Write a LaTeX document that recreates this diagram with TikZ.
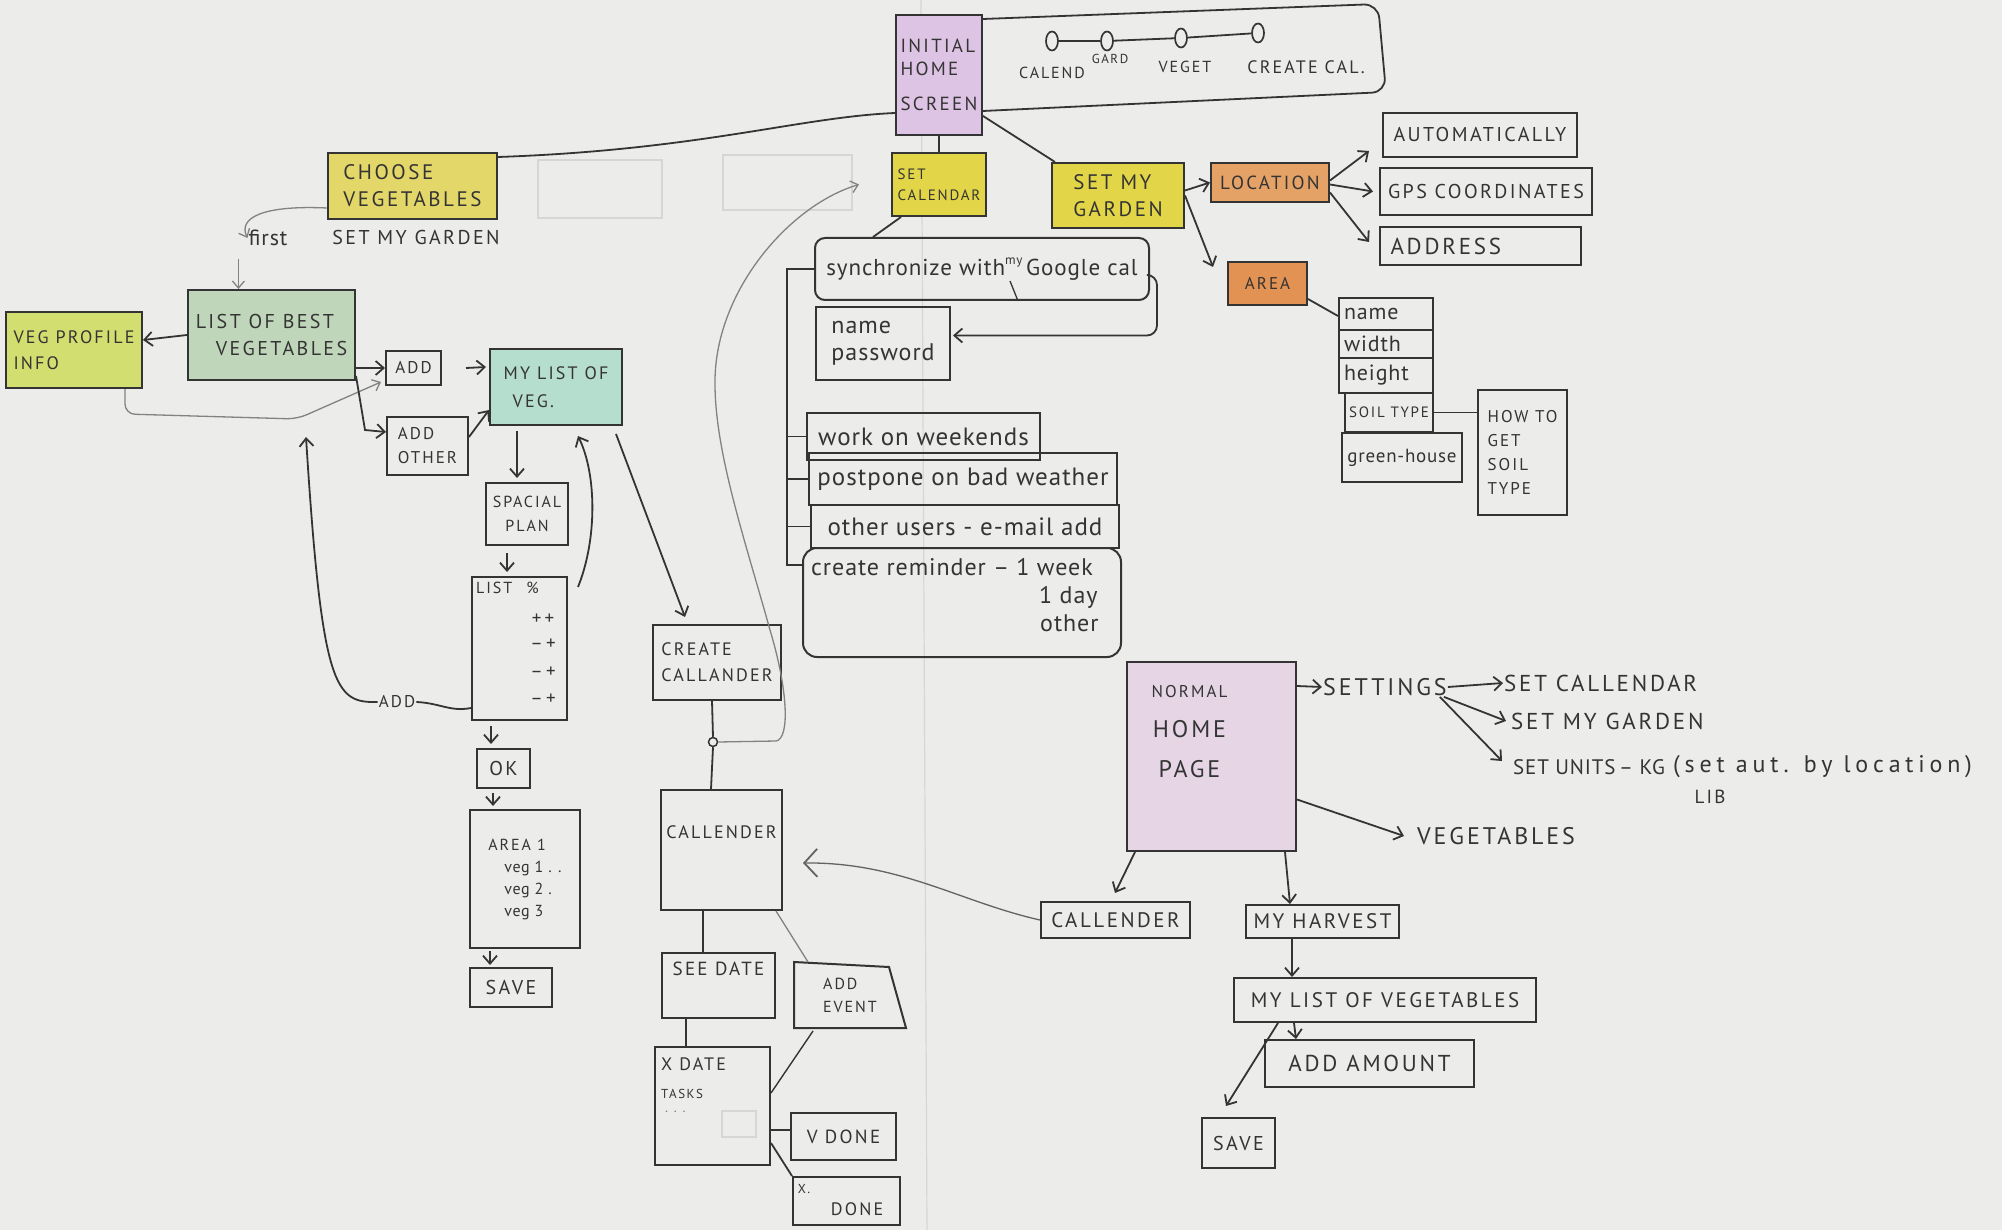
\documentclass[tikz,border=0pt]{standalone}
\usepackage{fontspec}
\setmainfont{PT Sans}[LetterSpace=4]
\newfontfamily\hw{PT Sans}[LetterSpace=12]
\newfontfamily\vw{PT Sans}[LetterSpace=20]
\usetikzlibrary{arrows.meta,shapes.geometric}
\definecolor{ink}{RGB}{52,52,52}
\definecolor{pencil}{RGB}{130,130,130}
\definecolor{faint}{RGB}{214,214,214}
\definecolor{paper}{RGB}{236,236,235}
\definecolor{purA}{RGB}{222,196,228}
\definecolor{purB}{RGB}{229,213,229}
\definecolor{yelA}{RGB}{228,215,105}
\definecolor{yelB}{RGB}{226,214,72}
\definecolor{orA}{RGB}{228,162,102}
\definecolor{orB}{RGB}{226,146,82}
\definecolor{grA}{RGB}{192,214,186}
\definecolor{limeA}{RGB}{210,222,112}
\definecolor{tealA}{RGB}{182,222,206}
\newcommand\fsz[2]{\fontsize{#1}{#2}\selectfont}
\newcommand\hbx[7][]{\node[box,#1,minimum width={(#5)-(#3)},minimum height={(#6)-(#4)}] (#2) at ({((#3)+(#5))/2},{((#4)+(#6))/2}) {#7};}
\tikzset{
 box/.style={draw=ink,line width=2pt,inner sep=1pt,align=center,text=ink,font=\hw\fsz{20}{25}},
 lbl/.style={text=ink,inner sep=1pt,font=\hw\fsz{20}{25}},
 con/.style={draw=ink,line width=1.8pt},
 arr/.style={con,-{Straight Barb[length=8pt,width=14pt]}},
 thn/.style={draw=pencil,line width=1.3pt},
 thnarr/.style={thn,-{Straight Barb[length=7pt,width=12pt]}},
 bigarr/.style={draw=pencil!60!ink,line width=1.3pt,-{Straight Barb[length=13pt,width=28pt,line width=1.8pt]}},
 dot/.style={draw=ink,line width=1.7pt,ellipse,minimum width=12pt,minimum height=19pt,inner sep=0pt},
}
\begin{document}
\begin{tikzpicture}[x=1pt,y=-1pt]
\fill[paper] (0,0) rectangle (2002,1230);
\useasboundingbox (0,0) rectangle (2002,1230);
\draw[faint,line width=1.2pt] (921,0) -- (927,1230);
% erased boxes
\draw[faint,line width=1.5pt] (538,160) rectangle (662,218);
\draw[faint,line width=1.5pt] (723,155) rectangle (852,210);

% ---------- top ----------
\hbx[fill=purA,font=\hw\fsz{19}{23},align=left]{ini}{896}{15}{982}{135}{INITIAL\\HOME\\[12pt]SCREEN}
\draw[con,rounded corners=14pt] ([yshift=-5pt]ini.north east) -- (1378,4) -- (1386,92) -- ([yshift=25pt]ini.south east);
\node[dot] (l1) at (1052,41) {};
\node[dot] (l2) at (1107,41) {};
\node[dot] (l3) at (1181,38) {};
\node[dot] (l4) at (1258,33) {};
\draw[con] (l1) -- (l2);
\draw[con] (l2) -- (l3);
\draw[con] (l3) -- (l4);
\node[lbl,font=\hw\fsz{16}{18}] (t1) at (1052,73) {CALEND};
\node[lbl,font=\hw\fsz{13}{15}] (t2) at (1110,59) {GARD};
\node[lbl,font=\hw\fsz{16}{18}] (t3) at (1185,67) {VEGET};
\node[lbl,font=\hw\fsz{18}{20}] (t4) at (1306,67) {CREATE CAL.};

\hbx[fill=yelA,font=\hw\fsz{21}{27},align=left]{choose}{328}{153}{497}{219}{CHOOSE\\VEGETABLES}
\draw[con] ([yshift=23pt]ini.south west) .. controls (800,117) and (700,150) .. ([yshift=-5pt]choose.north east);

\hbx[fill=yelB,font=\hw\fsz{15}{21},align=left]{setcal}{892}{153}{986}{216}{SET\\CALENDAR}
\draw[con] (ini.south) -- (setcal.north);

\hbx[fill=yelB,font=\hw\fsz{21}{27},align=left]{garden}{1052}{163}{1184}{228}{SET MY\\GARDEN}
\draw[con] ([yshift=20pt]ini.south east) -- ([xshift=4pt]garden.north west);

\hbx[fill=orA,font=\hw\fsz{19}{22}]{loc}{1211}{163}{1329}{202}{LOCATION}
\hbx[fill=orB,font=\hw\fsz{17}{20}]{area}{1228}{262}{1307}{305}{AREA}
\draw[arr] ([yshift=5pt]garden.east) -- (loc.west);
\draw[arr] (garden.east) -- ([xshift=-14pt,yshift=-6pt]area.north west);

\hbx{auto}{1383}{113}{1577}{157}{AUTOMATICALLY}
\hbx{gps}{1380}{168}{1592}{215}{GPS COORDINATES}
\hbx[align=left,text width=180pt,font=\hw\fsz{23}{26}]{addr}{1380}{227}{1581}{265}{ADDRESS}
\draw[arr] ([yshift=2pt]loc.east) -- ([xshift=-13pt,yshift=7pt]auto.south west);
\draw[arr] ([yshift=-2pt]loc.east) -- ([xshift=-6pt]gps.west);
\draw[arr] ([yshift=-10pt]loc.east) -- ([xshift=-10pt,yshift=4pt]addr.west);

\hbx[font=\fsz{22}{26},align=left,text width=84pt]{nm}{1339}{298}{1433}{330}{name}
\hbx[font=\fsz{22}{26},align=left,text width=84pt]{wd}{1339}{330}{1433}{358}{width}
\hbx[font=\fsz{22}{26},align=left,text width=84pt]{ht}{1339}{358}{1433}{393}{height}
\hbx[font=\hw\fsz{15}{20}]{soil}{1345}{393}{1433}{432}{SOIL TYPE}
\hbx[font=\fsz{19}{24}]{gh}{1342}{433}{1462}{482}{green-house}
\hbx[font=\hw\fsz{17}{24},align=left]{howto}{1478}{390}{1567}{515}{HOW TO\\GET\\SOIL\\TYPE}
\draw[con] (soil.east) -- (soil.east -| howto.west);
\draw[con] ([yshift=7pt]area.south east) -- ([yshift=-19pt]nm.north west);

% ---------- calendar settings ----------
\hbx[rounded corners=10pt,font=\fsz{23}{26}]{sync}{815}{238}{1149}{300}{synchronize with\raisebox{11pt}{\fsz{13}{15}my}\,Google cal}
\draw[con,line width=1.3pt] ([xshift=204pt]sync.south west) -- ++(-8,-20);
\draw[con] ([xshift=10pt]setcal.south west) -- ([xshift=59pt]sync.north west);
\hbx[align=left,font=\fsz{24}{27}]{namepw}{816}{307}{950}{380}{name\\password}
\draw[arr,rounded corners=10pt] ([yshift=-6pt]sync.east) -- ++(7,0) |- ([xshift=2pt,yshift=8pt]namepw.east);

\hbx[font=\fsz{25}{28}]{work}{807}{413}{1040}{460}{work on weekends}
\hbx[font=\fsz{25}{28}]{postp}{809}{453}{1117}{505}{postpone on bad weather}
\hbx[font=\fsz{25}{28}]{other}{811}{505}{1119}{548}{other users - e-mail add}
\hbx[rounded corners=14pt]{remind}{803}{548}{1121}{657}{}
\node[lbl,anchor=west,font=\fsz{24}{27}] (rem1) at ([xshift=8pt,yshift=-20pt]remind.north west) {create reminder -- 1 week};
\node[lbl,anchor=west,font=\fsz{24}{27}] (rem2) at ([xshift=236pt,yshift=-50pt]remind.north west) {1 day};
\node[lbl,anchor=west,font=\fsz{24}{27}] (rem3) at ([xshift=237pt,yshift=-76pt]remind.north west) {other};
\coordinate (brtop) at (787,269);
\coordinate (brbot) at (787,565);
\draw[con] (sync.west) -- (brtop) -- (brbot) -- (brbot -| remind.west);
\draw[con] (brtop |- work.west) -- (work.west);
\draw[con] (brtop |- postp.west) -- (postp.west);
\draw[con] (brtop |- other.west) -- (other.west);

% ---------- left: vegetables ----------
\node[lbl,font=\fsz{22}{24}] (first) at (268,238) {first};
\node[lbl,font=\hw\fsz{20}{22}] (smg) at (416,238) {SET MY GARDEN};
\draw[thnarr] ([yshift=12pt]choose.south west) .. controls (262,205) and (238,218) .. (first.west);
\hbx[fill=grA,font=\hw\fsz{20}{27},align=left]{list}{188}{290}{355}{380}{LIST OF BEST\\\quad VEGETABLES}
\coordinate (fa) at ([xshift=-9pt,yshift=-12pt]first.south west);
\draw[thnarr] (fa) -- (fa |- list.north);
\hbx[fill=limeA,font=\hw\fsz{18}{26},align=left]{veg}{6}{312}{142}{388}{VEG PROFILE\\INFO}
\draw[arr] (list.west) -- ([yshift=10pt]veg.east);
\hbx[font=\hw\fsz{17}{20}]{add}{386}{351}{441}{385}{ADD}
\hbx[font=\hw\fsz{17}{24},align=left]{addo}{387}{417}{468}{475}{ADD\\OTHER}
\hbx[fill=tealA,font=\hw\fsz{18}{28},align=left]{mylist}{490}{349}{622}{425}{MY LIST OF\\\enspace VEG.}
\draw[thnarr,rounded corners=10pt] ([xshift=-18pt]veg.south east) -- ++(0,25) -- ++(172,5) -- ([xshift=-4pt,yshift=-14pt]add.west);
\draw[arr] ([yshift=-33pt]list.east) -- (add.west);
\draw[arr] ([yshift=5pt]list.south east) -- ([xshift=-21pt,yshift=16pt]addo.west) -- ([yshift=14pt]addo.west);
\draw[arr] ([xshift=24pt]add.east) -- ([xshift=-3pt,yshift=20pt]mylist.west);
\draw[arr] ([yshift=9pt]addo.east) -- ([yshift=-23pt]mylist.west);

\hbx[font=\hw\fsz{16}{24}]{spacial}{486}{483}{568}{545}{SPACIAL\\PLAN}
\draw[arr] ([xshift=28pt,yshift=-5pt]mylist.south west) -- ([xshift=32pt,yshift=4pt]spacial.north west);
\hbx{listpct}{472}{577}{567}{720}{}
\node[lbl,anchor=north west,font=\hw\fsz{16}{18}] (lt) at ([xshift=4pt,yshift=-5pt]listpct.north west) {LIST\hspace{14pt}\%};
\node[lbl,font=\fsz{19}{20}] (r1) at ([xshift=-25pt,yshift=-43pt]listpct.north east) {+\,+};
\node[lbl,font=\fsz{19}{20}] (r2) at ([xshift=-25pt,yshift=-68pt]listpct.north east) {\textendash\,+};
\node[lbl,font=\fsz{19}{20}] (r3) at ([xshift=-25pt,yshift=-96pt]listpct.north east) {\textendash\,+};
\node[lbl,font=\fsz{19}{20}] (r4) at ([xshift=-25pt,yshift=-123pt]listpct.north east) {\textendash\,+};
\draw[arr] ([xshift=22pt,yshift=-7pt]spacial.south west) -- ([xshift=36pt,yshift=4pt]listpct.north west);
\draw[arr] ([xshift=10pt,yshift=-11pt]listpct.north east) .. controls (597,540) and (597,475) .. ([xshift=-45pt,yshift=-10pt]mylist.south east);

\node[lbl,font=\hw\fsz{17}{20}] (addlbl) at (397,702) {ADD};
\coordinate (addtip) at (306,437);
\draw[con] ([yshift=-59.5pt]listpct.west) .. controls (450,712) and (440,703) .. (addlbl.east);
\draw[arr] (addlbl.west) .. controls (335,703) and (322,690) .. (addtip);

\hbx[font=\hw\fsz{20}{24}]{ok}{477}{749}{530}{788}{OK}
\hbx[font=\hw\fsz{16}{22},align=left]{area1}{470}{810}{580}{948}{AREA 1\\\quad {\rmfamily veg 1 . .}\\\quad {\rmfamily veg 2 .}\\\quad {\rmfamily veg 3}}
\hbx[font=\hw\fsz{20}{24}]{save}{470}{968}{552}{1007}{SAVE}
\draw[arr] ([xshift=20pt,yshift=-5pt]listpct.south west) -- ([xshift=15pt,yshift=4pt]ok.north west);
\draw[arr] ([xshift=17pt,yshift=-4pt]ok.south west) -- ([xshift=24pt,yshift=3pt]area1.north west);
\draw[arr] ([xshift=21pt,yshift=-2pt]area1.south west) -- ([xshift=21pt,yshift=2pt]save.north west);

% ---------- calendar creation ----------
\hbx[font=\hw\fsz{18}{26},align=left]{createcal}{653}{625}{781}{700}{CREATE\\CALLANDER}
\draw[arr] ([xshift=-7pt,yshift=-8pt]mylist.south east) -- ([xshift=33pt,yshift=7pt]createcal.north west);
\node[circle,draw=ink,line width=1.5pt,inner sep=0pt,minimum size=9pt] (knot) at (713,742) {};
\hbx{cal}{661}{790}{782}{910}{}
\node[lbl,font=\hw\fsz{18}{22}] (caltxt) at ([yshift=-43pt]cal.north) {CALLENDER};
\draw[con] ([xshift=60pt]createcal.south west) -- (knot.north);
\draw[con] (knot.south) -- ([xshift=51pt]cal.north west);
\draw[thnarr] (knot.east) -- ++(58,-1) .. controls (790,738) and (788,690) .. (770,630) .. controls (745,540) and (714,450) .. (715,380) .. controls (716,290) and (790,205) .. ([xshift=-32pt]setcal.west);

\hbx{seedate}{662}{953}{775}{1018}{}
\node[lbl,font=\hw\fsz{19}{20}] (sdtxt) at ([yshift=-17pt]seedate.north) {SEE DATE};
\hbx[draw=none,font=\hw\fsz{16}{23},align=left]{addevent}{795}{963}{905}{1027}{ADD\\EVENT\hspace{6pt}}
\draw[con,line width=2pt] (addevent.north west) -- ([xshift=-17pt,yshift=-5pt]addevent.north east) -- (addevent.south east) -- (addevent.south west) -- cycle;
\hbx{xdate}{655}{1047}{770}{1165}{}
\node[lbl,anchor=north west,font=\hw\fsz{18}{20}] (xd1) at ([xshift=6pt,yshift=-10pt]xdate.north west) {X DATE};
\node[lbl,anchor=north west,font=\hw\fsz{13}{15}] (xd2) at ([xshift=6pt,yshift=-42pt]xdate.north west) {TASKS};
\node[lbl,anchor=north west,font=\fsz{14}{15},text=pencil] (xd3) at ([xshift=10pt,yshift=-64pt]xdate.north west) {. . .};
\draw[faint,line width=1.5pt] ([xshift=68pt,yshift=-65pt]xdate.north west) rectangle ++(34,26);
\hbx[font=\hw\fsz{19}{22}]{vdone}{791}{1113}{896}{1160}{V DONE}
\hbx{xdone}{793}{1177}{900}{1225}{}
\node[lbl,font=\hw\fsz{13}{15}] (xx) at ([xshift=12pt,yshift=-13pt]xdone.north west) {X.};
\node[lbl,font=\hw\fsz{18}{20}] (xdn) at ([xshift=65pt,yshift=-33pt]xdone.north west) {DONE};
\draw[con] ([xshift=43pt]cal.south west) -- ([xshift=42pt]seedate.north west);
\draw[thn] ([xshift=-7pt]cal.south east) -- ([xshift=14pt]addevent.north west);
\draw[con] ([xshift=25pt]seedate.south west) -- ([xshift=32pt]xdate.north west);
\draw[con,line width=1.4pt] ([xshift=19pt,yshift=-3pt]addevent.south west) -- ([yshift=13pt]xdate.east);
\draw[con] ([yshift=-24pt]xdate.east) -- ([yshift=6.5pt]vdone.west);
\draw[con] ([yshift=-37pt]xdate.east) -- (xdone.north west);

% ---------- normal home page ----------
\hbx[fill=purB]{nh}{1127}{662}{1296}{851}{}
\node[lbl,align=center,font=\hw\fsz{24}{40}] (nhtxt) at ([xshift=-22pt,yshift=-71pt]nh.north) {{\fsz{17}{20}NORMAL}\\HOME\\PAGE};
\node[lbl,anchor=west,font=\hw\fsz{24}{26}] (settings) at (1322,687) {SETTINGS};
\node[lbl,anchor=west,font=\hw\fsz{23}{26}] (sc2) at (1503,683) {SET CALLENDAR};
\node[lbl,anchor=west,font=\hw\fsz{23}{26}] (sg2) at (1510,721) {SET MY GARDEN};
\node[lbl,anchor=west,font=\fsz{21}{24}] (su2) at (1512,767) {SET UNITS};
\node[lbl,anchor=west,font=\fsz{21}{24}] (kg) at (1618,767) {-- KG};
\node[lbl,anchor=west,font=\vw\fsz{24}{26}] (aut) at (1672,767) {(set aut. by location)};
\node[lbl,font=\hw\fsz{19}{22}] (lib) at (1710,797) {LIB};
\node[lbl,anchor=west,font=\hw\fsz{24}{26}] (veg2) at (1416,836) {VEGETABLES};
\draw[arr] ([yshift=-25pt]nh.north east) -- (settings.west);
\draw[arr] (settings.east) -- (sc2.west);
\draw[arr] ([xshift=-4pt]settings.south east) -- ([xshift=-4pt]sg2.west);
\draw[arr] ([xshift=-8pt]settings.south east) -- ([xshift=-10pt,yshift=6pt]su2.west);
\draw[arr] ([yshift=-43pt]nh.east) -- ([xshift=-12pt]veg2.west);

\hbx[font=\hw\fsz{21}{24}]{cal2}{1041}{902}{1190}{938}{CALLENDER}
\hbx[font=\hw\fsz{21}{24}]{harvest}{1246}{905}{1399}{938}{MY HARVEST}
\hbx[font=\hw\fsz{21}{24}]{mlv}{1234}{978}{1536}{1022}{MY LIST OF VEGETABLES}
\hbx[font=\hw\fsz{23}{26}]{adda}{1265}{1040}{1474}{1087}{ADD AMOUNT}
\hbx[font=\hw\fsz{20}{24}]{save2}{1202}{1118}{1275}{1168}{SAVE}
\draw[arr] ([xshift=9pt]nh.south west) -- ([xshift=75pt,yshift=8pt]cal2.north west);
\draw[arr] ([xshift=-12pt]nh.south east) -- ([xshift=45pt]harvest.north west);
\draw[arr] ([xshift=47pt]harvest.south west) -- ([xshift=59pt]mlv.north west);
\draw[arr] ([xshift=61pt]mlv.south west) -- ([xshift=32pt]adda.north west);
\draw[arr] ([xshift=45pt]mlv.south west) -- ([xshift=25pt,yshift=11pt]save2.north west);
\draw[bigarr] (cal2.west) .. controls (960,902) and (900,862) .. ([xshift=20pt,yshift=-13pt]cal.east);
\end{tikzpicture}
\end{document}
